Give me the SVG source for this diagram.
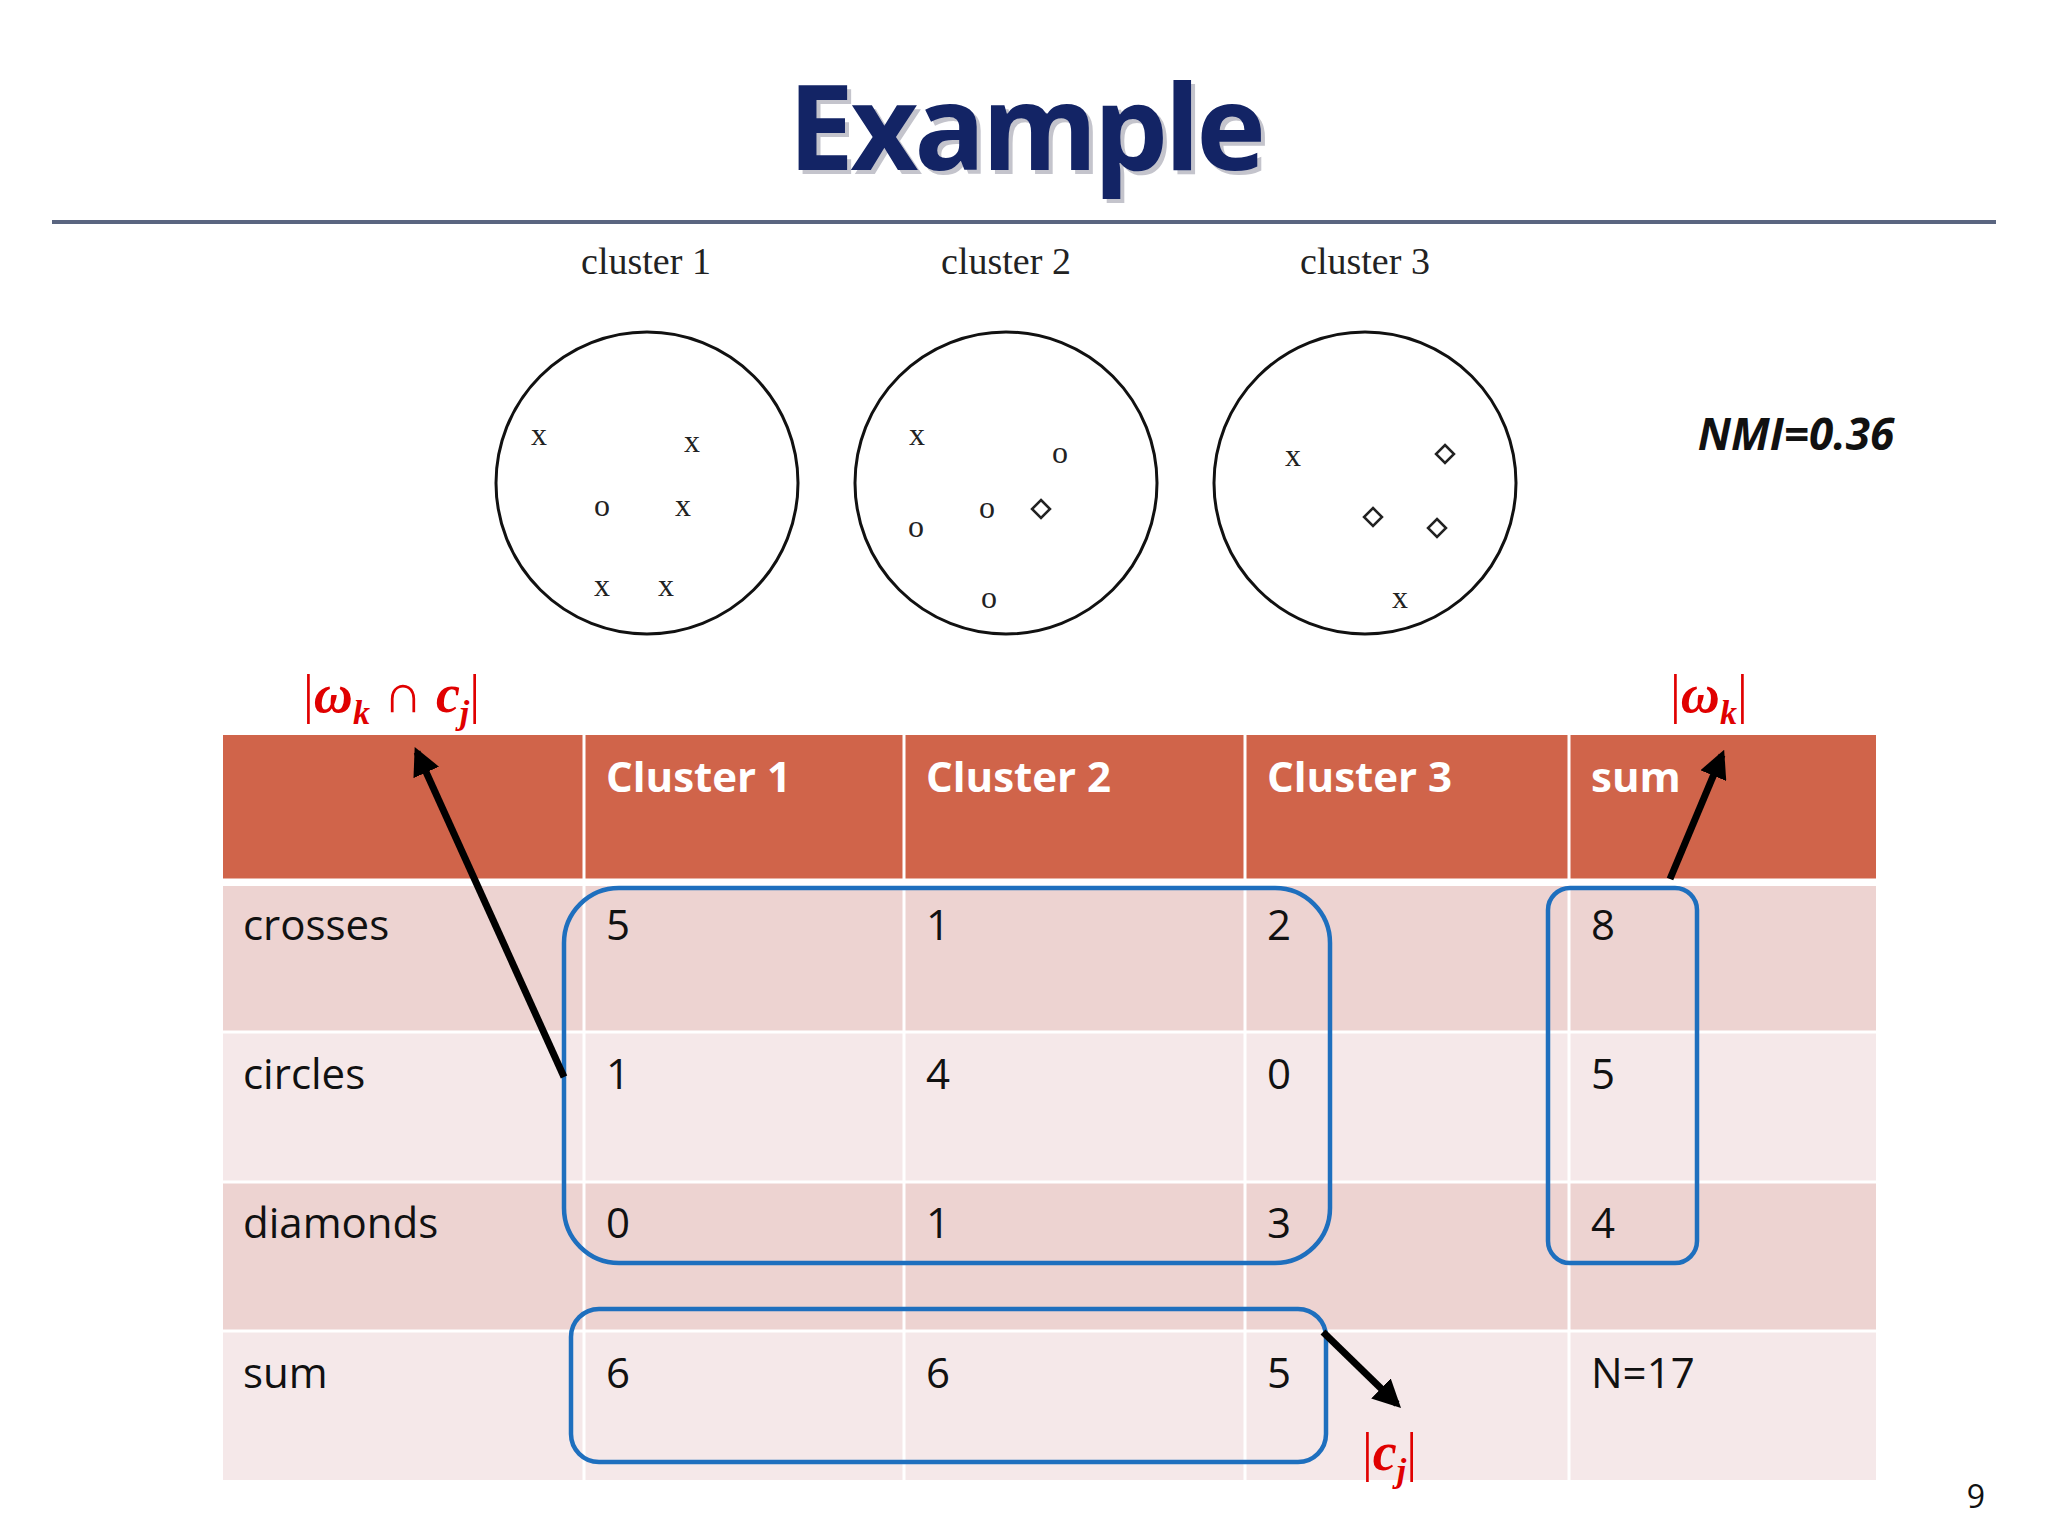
<svg xmlns="http://www.w3.org/2000/svg" width="2048" height="1536" viewBox="0 0 2048 1536">
<style>
.sf{font-family:"Liberation Serif",serif;font-size:38px;fill:#222}
.mk{font-family:"Liberation Serif",serif;font-size:32px;fill:#222;text-anchor:middle}
.hd{font-family:"Open Sans","Liberation Sans",sans-serif;font-weight:bold;font-size:42px;fill:#fff}
.cl{font-family:"Open Sans","Liberation Sans",sans-serif;font-size:42px;fill:#111}
.rd{font-family:"Liberation Serif",serif;font-size:54px;fill:#e00000;font-weight:bold}
.ci{fill:none;stroke:#111;stroke-width:3}
.bx{fill:none;stroke:#1e6fbe;stroke-width:4.5}
.ar{stroke:#000;stroke-width:7;marker-end:url(#ah)}
</style>
<defs>
<marker id="ah" viewBox="0 0 10 10" refX="8" refY="5" markerWidth="4" markerHeight="4" orient="auto"><path d="M0,0 L10,5 L0,10 z" fill="#000"/></marker>
</defs>
<rect width="2048" height="1536" fill="#fff"/>
<g id="title">
<text x="1029" y="174" text-anchor="middle" font-family="Open Sans,Liberation Sans,sans-serif" font-weight="bold" font-size="118" fill="#8a8a9a" opacity="0.5" letter-spacing="-4">Example</text>
<text x="1025" y="170" text-anchor="middle" font-family="Open Sans,Liberation Sans,sans-serif" font-weight="bold" font-size="118" fill="#132465" letter-spacing="-4">Example</text>
<line x1="52" y1="222" x2="1996" y2="222" stroke="#5a6580" stroke-width="4"/>
</g>
<g id="cluster1">
<text class="sf" x="646" y="274" text-anchor="middle">cluster 1</text>
<circle class="ci" cx="647" cy="483" r="151"/>
<text class="mk" x="539" y="445">x</text><text class="mk" x="692" y="452">x</text>
<text class="mk" x="683" y="516">x</text><text class="mk" x="602" y="596">x</text>
<text class="mk" x="666" y="596">x</text><text class="mk" x="602" y="516">o</text>
</g>
<g id="cluster2">
<text class="sf" x="1006" y="274" text-anchor="middle">cluster 2</text>
<circle class="ci" cx="1006" cy="483" r="151"/>
<text class="mk" x="917" y="445">x</text><text class="mk" x="1060" y="463">o</text>
<text class="mk" x="916" y="537">o</text><text class="mk" x="987" y="518">o</text>
<text class="mk" x="989" y="608">o</text>
<polygon points="1041,500 1050,509 1041,518 1032,509" fill="none" stroke="#222" stroke-width="2.5"/>
</g>
<g id="cluster3">
<text class="sf" x="1365" y="274" text-anchor="middle">cluster 3</text>
<circle class="ci" cx="1365" cy="483" r="151"/>
<text class="mk" x="1293" y="466">x</text><text class="mk" x="1400" y="608">x</text>
<polygon points="1445,445 1454,454 1445,463 1436,454" fill="none" stroke="#222" stroke-width="2.5"/>
<polygon points="1373,508 1382,517 1373,526 1364,517" fill="none" stroke="#222" stroke-width="2.5"/>
<polygon points="1437,519 1446,528 1437,537 1428,528" fill="none" stroke="#222" stroke-width="2.5"/>
</g>
<g id="nmi"><text x="1796" y="450" text-anchor="middle" font-family="Open Sans,Liberation Sans,sans-serif" font-weight="bold" font-style="italic" font-size="44" fill="#111">NMI=0.36</text></g>
<g id="table">
<rect x="223" y="735" width="1653" height="144" fill="#D0644A"/>
<rect x="223" y="886" width="1653" height="146" fill="#EDD3D1"/>
<rect x="223" y="1032" width="1653" height="150" fill="#F5E8E9"/>
<rect x="223" y="1182" width="1653" height="149" fill="#EDD3D1"/>
<rect x="223" y="1331" width="1653" height="149" fill="#F5E8E9"/>
<g stroke="#fff" stroke-width="3">
<line x1="584" y1="735" x2="584" y2="1480"/><line x1="904" y1="735" x2="904" y2="1480"/>
<line x1="1245" y1="735" x2="1245" y2="1480"/><line x1="1569" y1="735" x2="1569" y2="1480"/>
<line x1="223" y1="882" x2="1876" y2="882" stroke-width="7"/>
<line x1="223" y1="1032" x2="1876" y2="1032"/><line x1="223" y1="1182" x2="1876" y2="1182"/>
<line x1="223" y1="1331" x2="1876" y2="1331"/>
</g>
<text class="hd" x="606" y="792">Cluster 1</text><text class="hd" x="926" y="792">Cluster 2</text>
<text class="hd" x="1267" y="792">Cluster 3</text><text class="hd" x="1591" y="792">sum</text>
<text class="cl" x="243" y="940">crosses</text><text class="cl" x="606" y="940">5</text><text class="cl" x="926" y="940">1</text><text class="cl" x="1267" y="940">2</text><text class="cl" x="1591" y="940">8</text>
<text class="cl" x="243" y="1089">circles</text><text class="cl" x="606" y="1089">1</text><text class="cl" x="926" y="1089">4</text><text class="cl" x="1267" y="1089">0</text><text class="cl" x="1591" y="1089">5</text>
<text class="cl" x="243" y="1238">diamonds</text><text class="cl" x="606" y="1238">0</text><text class="cl" x="926" y="1238">1</text><text class="cl" x="1267" y="1238">3</text><text class="cl" x="1591" y="1238">4</text>
<text class="cl" x="243" y="1388">sum</text><text class="cl" x="606" y="1388">6</text><text class="cl" x="926" y="1388">6</text><text class="cl" x="1267" y="1388">5</text><text class="cl" x="1591" y="1388">N=17</text>
</g>
<g id="boxes">
<rect class="bx" x="564" y="888" width="766" height="375" rx="55"/>
<rect class="bx" x="1548" y="888" width="149" height="375" rx="22"/>
<rect class="bx" x="571" y="1309" width="755" height="153" rx="28"/>
</g>
<g id="connectors">
<line class="ar" x1="564" y1="1077" x2="417" y2="752"/>
<line class="ar" x1="1670" y1="879" x2="1722" y2="755"/>
<line class="ar" x1="1323" y1="1332" x2="1397" y2="1404"/>
</g>
<g id="labels">
<text class="rd" x="303" y="712" font-style="italic"><tspan font-style="normal" font-weight="normal">|</tspan>ω<tspan font-size="34" dy="12">k</tspan><tspan dy="-12" font-style="normal" font-weight="normal"> ∩ </tspan>c<tspan font-size="34" dy="12">j</tspan><tspan dy="-12" font-style="normal" font-weight="normal">|</tspan></text>
<text class="rd" x="1670" y="712" font-style="italic"><tspan font-style="normal" font-weight="normal">|</tspan>ω<tspan font-size="34" dy="12">k</tspan><tspan dy="-12" font-style="normal" font-weight="normal">|</tspan></text>
<text class="rd" x="1362" y="1470" font-style="italic"><tspan font-style="normal" font-weight="normal">|</tspan>c<tspan font-size="34" dy="12">j</tspan><tspan dy="-12" font-style="normal" font-weight="normal">|</tspan></text>
<text x="1976" y="1508" font-family="Open Sans,Liberation Sans,sans-serif" font-size="32" fill="#111" text-anchor="middle">9</text>
</g>
</svg>
